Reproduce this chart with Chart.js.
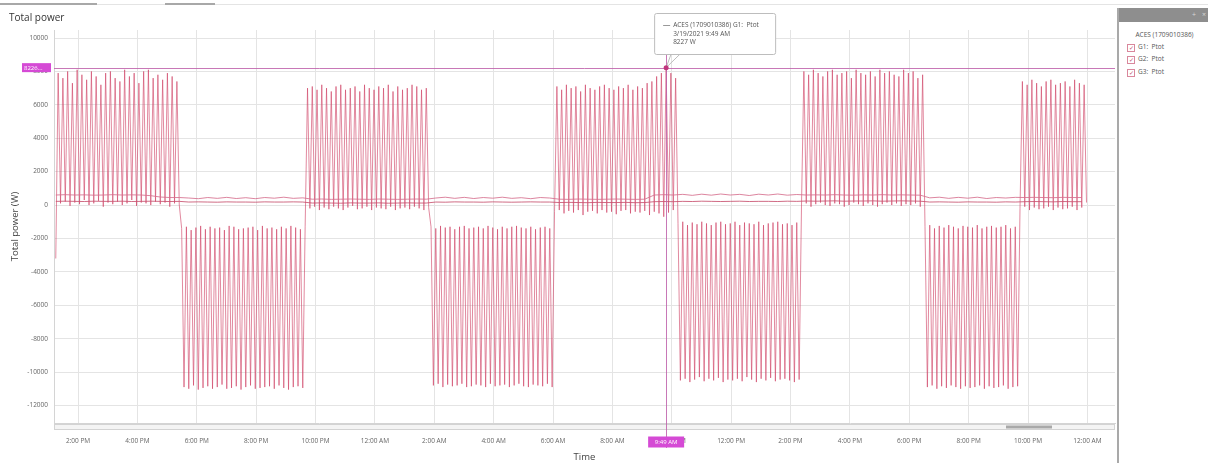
<!DOCTYPE html>
<html>
<head>
<meta charset="utf-8">
<script src="https://cdn.jsdelivr.net/npm/chart.js@4.4.1/dist/chart.umd.min.js"></script>
<style>
  body { margin: 0; background: #fff; font-family: "Open Sans", sans-serif; }
  #wrap { position: relative; width: 1208px; height: 463px; overflow: hidden; }
  #topline { position: absolute; left: 0; top: 4px; width: 1208px; height: 1px; background: #e4e4e4; }
  .tab { position: absolute; top: 3px; height: 2px; background: #a8a8a8; }
  #title { position: absolute; left: 9px; top: 10px; font-size: 10px; color: #333; }
  canvas { position: absolute; left: 0; top: 0; }
  #panel { position: absolute; left: 1117px; top: 8px; width: 91px; height: 455px; border-left: 2px solid #a9a9a9; background: #fff; }
  #panelHead { height: 14px; background: #8e8e8e; color: #d8d8d8; font-size: 7px; text-align: right; line-height: 14px; padding-right: 4px; }
  #panelHead span { margin-left: 6px; }
  #grp { position: absolute; left: 0; width: 91px; top: 22px; text-align: center; font-size: 6.5px; color: #555; }
  .item { position: absolute; left: 8px; font-size: 6.5px; color: #555; line-height: 8px; }
  .cb { display: inline-block; width: 6px; height: 6px; border: 1px solid #d9879c; margin-right: 3px; vertical-align: -1px; font-size: 6px; line-height: 6px; color: #c0506e; text-align: center; }
</style>
</head>
<body>
<div id="wrap">
  <div id="topline"></div>
  <div class="tab" style="left:0; width:97px;"></div>
  <div class="tab" style="left:165px; width:50px;"></div>
  <canvas id="chart" width="1118" height="463"></canvas>
  <div id="title">Total power</div>
  <div id="panel">
    <div id="panelHead"><span>+</span><span>×</span></div>
    <div id="grp">ACES (1709010386)</div>
    <div class="item" style="top:35px;"><span class="cb">✓</span>G1:&nbsp; Ptot</div>
    <div class="item" style="top:47px;"><span class="cb">✓</span>G2:&nbsp; Ptot</div>
    <div class="item" style="top:60px;"><span class="cb">✓</span>G3:&nbsp; Ptot</div>
  </div>
</div>
<script>
// samples of G1 every 4.8 min, starting 1:15 PM (hours counted from midnight of day 1)
const startHour = 13.25;
const sampleHours = 0.08;

// G1: Ptot (W) - charge / discharge cycling
const g1Ptot = [
  -3200,
  7900,100,7600,200,8000,-50,7300,150,8100,50,7800,300,7500,0,8000,100,7700,250,7200,-100,7900,150,8000,50,7600,200,
  7400,0,8100,100,7700,300,7900,-50,7300,150,8000,100,8100,0,7600,200,7800,50,7500,150,7900,-100,7700,100,7400,0,
  -1400,-10900,-1300,-11000,-1500,-10800,-1350,-11050,-1250,-10950,-1450,-10850,-1300,-11000,-1400,-10900,-1350,-10750,-1500,-11000,-1250,-10950,-1300,-10850,-1450,-11050,
  -1400,-10900,-1350,-10800,-1300,-11000,-1500,-10950,-1250,-10900,-1400,-10850,-1350,-11000,-1450,-10800,-1300,-10950,-1400,-11050,-1250,-10900,-1350,-10850,-1450,-10950,-1300,
  7000,-200,7100,-100,6900,-300,7200,-150,7000,-250,6800,-100,7100,-200,7200,-300,6900,-150,7000,-50,7100,-250,6800,-200,7200,-100,
  7000,-300,6900,-150,7100,-200,7000,-250,7200,-100,6800,-300,7100,-200,6900,-150,7000,-250,7200,-100,7100,-200,6900,-300,7000,-150,
  -1300,-10800,-1400,-10700,-1250,-10900,-1350,-10750,-1300,-10850,-1450,-10800,-1300,-10700,-1250,-10900,-1400,-10850,-1350,-10750,-1300,-10800,-1400,-10900,-1250,-10700,
  -1350,-10850,-1450,-10800,-1300,-10750,-1400,-10900,-1300,-10800,-1250,-10700,-1350,-10850,-1400,-10900,-1300,-10750,-1450,-10800,-1350,-10850,-1300,-10700,-1400,-10900,
  -400,7100,-300,6900,-500,7200,-350,7000,-450,7100,-300,6800,-600,7200,-400,7000,-350,6900,-500,7100,-300,7200,-450,7000,-400,6900,
  -550,7100,-350,7000,-300,7200,-500,6900,-400,7100,-450,7000,-350,7300,-600,7400,-400,7700,-500,7900,-700,8227,-450,7900,-300,7600,
  -1100,-10500,-1000,-10400,-1200,-10600,-1050,-10450,-1150,-10300,-1000,-10550,-1100,-10400,-1200,-10500,-1050,-10350,-1000,-10600,-1150,-10450,-1100,-10500,-1000,-10400,
  -1200,-10550,-1050,-10300,-1100,-10450,-1150,-10600,-1000,-10400,-1200,-10500,-1100,-10350,-1050,-10550,-1000,-10450,-1150,-10400,-1100,-10500,-1200,-10600,-1050,-10450,
  0,8000,100,7800,-100,8100,50,7900,150,7700,0,8000,-50,8100,100,7800,50,7900,-100,8000,0,7600,150,8100,50,7900,
  -50,7800,100,8000,0,7700,-100,8100,50,7900,150,8000,0,7800,100,7700,-50,8100,50,7900,0,8000,100,7600,-100,7800,
  -1300,-10900,-1200,-10800,-1400,-11000,-1250,-10850,-1350,-10950,-1200,-10800,-1300,-10900,-1400,-11000,-1250,-10850,-1300,-10950,
  -1350,-10900,-1200,-10800,-1400,-11000,-1300,-10850,-1250,-10950,-1350,-10900,-1300,-10800,-1200,-11000,-1400,-10900,-1300,-10850,
  -200,7400,-100,7200,-300,7500,-150,7300,-250,7100,-200,7400,-100,7500,
  -300,7200,-150,7300,-250,7400,-200,7100,-100,7500,-300,7300,-150,7200,150
];

// G2 / G3 are slow, logged every 19.2 min
const slowStartHour = 13.25;
const slowSampleHours = 0.32;

const g2Ptot = [
  600,620,600,610,590,600,620,600,610,600,560,480,450,450,
  420,380,450,400,460,390,440,380,450,410,470,400,430,
  350,360,340,350,360,350,340,360,350,340,350,360,350,
  420,470,400,460,390,450,410,470,400,440,380,450,420,
  350,340,360,350,340,350,360,350,340,350,600,620,600,
  640,580,650,590,660,600,640,570,650,600,660,590,630,
  600,610,600,620,600,590,610,600,620,600,610,600,590,
  430,470,400,460,410,470,390,450,420,460,
  450,460,450,440,460,450,450
];

const g3Ptot = [
  220,230,220,210,230,220,220,230,210,220,230,220,210,220,
  180,190,180,170,190,180,180,170,190,180,180,190,180,
  120,130,120,110,130,120,120,130,110,120,130,120,120,
  180,170,190,180,180,170,190,180,170,180,190,180,180,
  150,160,150,140,160,150,150,160,140,150,200,210,200,
  220,210,230,220,210,220,230,210,220,220,210,230,220,
  240,230,240,250,230,240,240,250,230,240,250,240,230,
  180,190,180,170,190,180,180,170,190,180,
  200,210,200,190,210,200,200
];

// y axis tick values (W)
const yTickValues = [10000, 8000, 6000, 4000, 2000, 0, -2000, -4000, -6000, -8000, -10000, -12000];

// cursor / reference line shown in the screenshot
const cursorValue = 8227;
const refLine = 8226;
const cursorLabel = '9:49 AM';
const tooltipLines = ['ACES (1709010386) G1:  Ptot', '3/19/2021 9:49 AM', '8227 W'];

const cursorIndex = g1Ptot.indexOf(cursorValue);
const cursorHour = startHour + cursorIndex * sampleHours;

const toPoints = (vals, t0, dt) => vals.map((v, i) => ({ x: t0 + i * dt, y: v }));

function clockLabel(h) {
  const hr = Math.round(h) % 24;
  const h12 = hr % 12 === 0 ? 12 : hr % 12;
  return h12 + ':00 ' + (hr < 12 ? 'AM' : 'PM');
}

const magenta = '#d54ad5';
const cursorColor = 'rgba(190, 96, 170, 0.85)';
const gridColor = '#e4e4e4';
const tickFont = { size: 6.5, family: 'Open Sans' };

const overlay = {
  id: 'overlay',
  afterDraw(chart) {
    const { ctx, chartArea: a, scales: { x, y } } = chart;
    const px = x.getPixelForValue(cursorHour);
    const py = y.getPixelForValue(cursorValue);
    const ry = y.getPixelForValue(refLine);
    ctx.save();

    // scroll bar under the plot
    ctx.fillStyle = '#f4f4f4';
    ctx.fillRect(a.left, a.bottom + 1, a.right - a.left, 6);
    ctx.strokeStyle = '#d3d3d3';
    ctx.lineWidth = 1;
    ctx.strokeRect(a.left + 0.5, a.bottom + 1.5, a.right - a.left - 1, 5);
    ctx.fillStyle = '#a9a9a9';
    ctx.fillRect(1006, a.bottom + 2.5, 46, 3);

    // cross hair
    ctx.strokeStyle = cursorColor;
    ctx.beginPath();
    ctx.moveTo(a.left, Math.round(ry) + 0.5);
    ctx.lineTo(a.right, Math.round(ry) + 0.5);
    ctx.moveTo(Math.round(px) + 0.5, a.top);
    ctx.lineTo(Math.round(px) + 0.5, 448);
    ctx.stroke();

    // value label on y axis
    ctx.fillStyle = magenta;
    ctx.fillRect(22, ry - 4.5, 29, 9);
    ctx.fillStyle = '#fff';
    ctx.font = '6px "Open Sans"';
    ctx.textBaseline = 'middle';
    ctx.textAlign = 'left';
    ctx.fillText(refLine + '...', 24, ry + 0.5);

    // time label on x axis
    ctx.fillStyle = magenta;
    ctx.fillRect(px - 18, 436.5, 36, 11);
    ctx.fillStyle = '#fff';
    ctx.textAlign = 'center';
    ctx.fillText(cursorLabel, px, 442.5);

    // tooltip
    const bx = px - 12, by = 13, bw = 121, bh = 41;
    ctx.strokeStyle = '#bdbdbd';
    ctx.beginPath();
    ctx.moveTo(px + 5, by + bh);
    ctx.lineTo(px, py);
    ctx.lineTo(px + 14, by + bh);
    ctx.stroke();
    ctx.fillStyle = '#fff';
    ctx.beginPath();
    ctx.roundRect(bx + 0.5, by + 0.5, bw, bh, 2);
    ctx.fill();
    ctx.stroke();
    ctx.strokeStyle = '#999';
    ctx.beginPath();
    ctx.moveTo(bx + 9, by + 12.5);
    ctx.lineTo(bx + 16, by + 12.5);
    ctx.stroke();
    ctx.fillStyle = '#555';
    ctx.textAlign = 'left';
    ctx.font = '6.5px "Open Sans"';
    tooltipLines.forEach((t, i) => ctx.fillText(t, bx + 19, by + 12.5 + i * 8.5));

    // hovered point
    ctx.fillStyle = '#c0357c';
    ctx.beginPath();
    ctx.arc(px, py, 2.5, 0, Math.PI * 2);
    ctx.fill();

    ctx.restore();
  }
};

new Chart(document.getElementById('chart'), {
  type: 'line',
  data: {
    datasets: [
      {
        label: 'G1: Ptot',
        data: toPoints(g1Ptot, startHour, sampleHours),
        borderColor: 'rgba(206, 64, 100, 0.62)',
        borderWidth: 1,
        order: 2
      },
      {
        label: 'G2: Ptot',
        data: toPoints(g2Ptot, slowStartHour, slowSampleHours),
        borderColor: 'rgba(214, 112, 142, 0.85)',
        borderWidth: 1,
        order: 1
      },
      {
        label: 'G3: Ptot',
        data: toPoints(g3Ptot, slowStartHour, slowSampleHours),
        borderColor: 'rgba(200, 82, 112, 0.85)',
        borderWidth: 1,
        order: 1
      }
    ]
  },
  options: {
    responsive: false,
    animation: false,
    layout: { padding: { top: 30, right: 3, left: 0, bottom: 0 } },
    elements: { point: { radius: 0 }, line: { tension: 0 } },
    plugins: {
      legend: { display: false },
      tooltip: { enabled: false }
    },
    events: [],
    scales: {
      x: {
        type: 'linear',
        min: 13.19,
        max: 48.93,
        ticks: {
          stepSize: 2,
          includeBounds: false,
          autoSkip: false,
          maxRotation: 0,
          padding: 14,
          color: '#666',
          font: tickFont,
          callback: v => clockLabel(v)
        },
        grid: { color: gridColor, drawTicks: false },
        border: { color: '#d4d4d4' },
        title: { display: true, text: 'Time', color: '#444', font: { size: 9.5, family: 'Open Sans' }, padding: { top: 0, bottom: 0 } },
        afterFit: s => { s.height = 40; }
      },
      y: {
        min: -13050,
        max: 10480,
        afterBuildTicks: s => { s.ticks = yTickValues.map(v => ({ value: v })); },
        ticks: {
          autoSkip: false,
          padding: 6,
          color: '#666',
          font: tickFont,
          callback: v => String(v)
        },
        grid: { color: gridColor, drawTicks: false },
        border: { color: '#d4d4d4' },
        title: { display: true, text: 'Total power (W)', color: '#444', font: { size: 9.5, family: 'Open Sans' }, padding: { top: 10, bottom: 0 } },
        afterFit: s => { s.width = 54; }
      }
    }
  },
  plugins: [overlay]
});
</script>
</body>
</html>
